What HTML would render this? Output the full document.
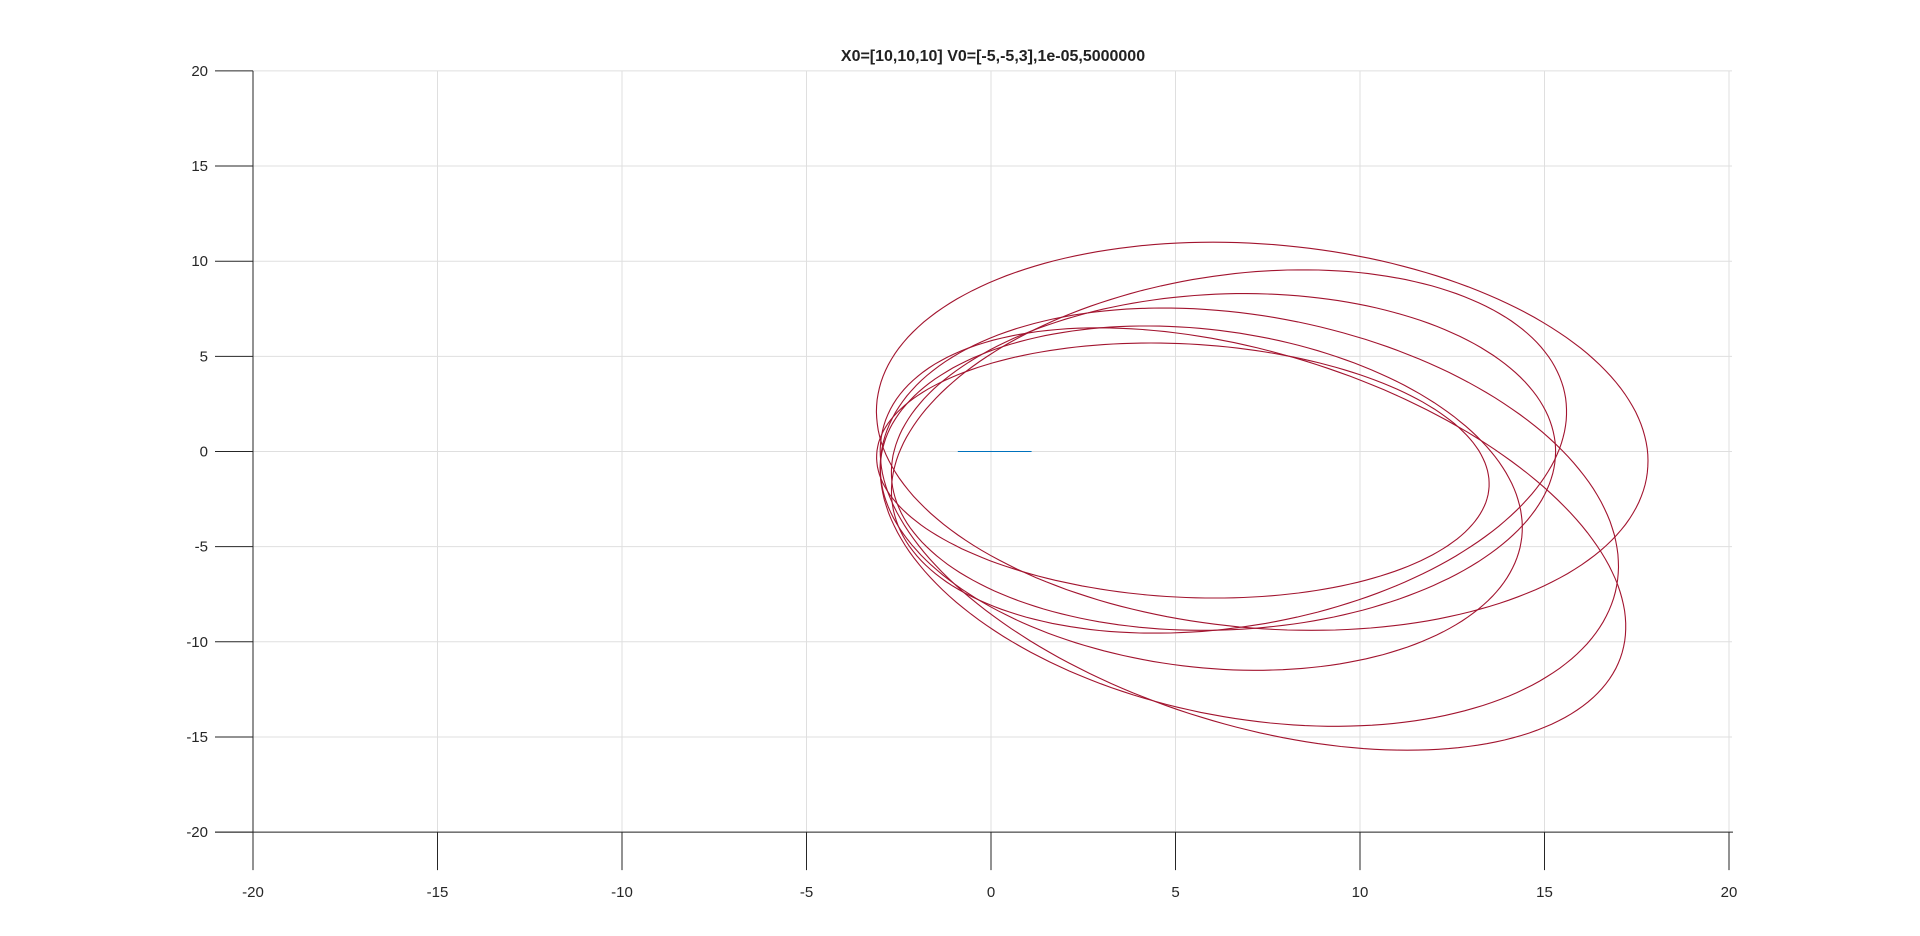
<!DOCTYPE html>
<html><head><meta charset="utf-8"><style>
body{margin:0;background:#fff;}
svg{display:block;font-family:"Liberation Sans",Arial,sans-serif;}
</style></head><body>
<svg width="1920" height="936" viewBox="0 0 1920 936">
<g id="grid"></g>
<g id="axes"></g>
<g id="series"></g>
<text x="993" y="61" text-anchor="middle" font-size="16" font-weight="bold" fill="#222">X0=[10,10,10] V0=[-5,-5,3],1e-05,5000000</text>
</svg>
<script>
const xTicks=[-20,-15,-10,-5,0,5,10,15,20];
const yTicks=[-20,-15,-10,-5,0,5,10,15,20];
// ellipse orbits: center x, center y, semi-axis x, semi-axis y, rotation (deg)
const orbitCx=[7.35,6.45,7.1,7.0,5.7,6.3,5.2];
const orbitCy=[0.8,0.0,-4.6,-3.45,-2.45,-0.55,-1.0];
const orbitRx=[10.98,10.34,12.66,11.75,9.62,9.21,8.38];
const orbitRy=[9.63,8.24,8.06,9.1,8.06,8.63,6.6];
const orbitRot=[-39.5,50.5,-51.4,-56,-51.5,37.4,-12.9];
const blueX=[-0.9,1.1];
const blueY=[0,0];
const NS="http://www.w3.org/2000/svg";
const X=v=>991+v*36.9;
const Y=v=>451.5-v*19.03;
function mk(tag,attrs,parent){const e=document.createElementNS(NS,tag);for(const k in attrs)e.setAttribute(k,attrs[k]);parent.appendChild(e);return e;}
const grid=document.getElementById('grid'),axes=document.getElementById('axes'),series=document.getElementById('series');
xTicks.forEach(t=>{
  const g=mk('line',{x1:X(t),x2:X(t),y1:Y(20),y2:Y(-20),stroke:'#dfdfdf','stroke-width':1},grid);
  
  
  const tk=mk('line',{x1:X(t),x2:X(t),y1:Y(-20),y2:Y(-20)+38,stroke:'#262626','stroke-width':1},axes);
  
  
  const lb=mk('text',{x:X(t),y:Y(-20)+65,'text-anchor':'middle','font-size':15,fill:'#262626'},axes);
  lb.textContent=t;
  
  
});
yTicks.forEach(t=>{
  const g=mk('line',{x1:X(-20),x2:X(20)+3,y1:Y(t),y2:Y(t),stroke:'#dfdfdf','stroke-width':1},grid);
  
  
  const tk=mk('line',{x1:X(-20)-38,x2:X(-20),y1:Y(t),y2:Y(t),stroke:'#262626','stroke-width':1},axes);
  
  
  const lb=mk('text',{x:X(-20)-45,y:Y(t)+5,'text-anchor':'end','font-size':15,fill:'#262626'},axes);
  lb.textContent=t;
  
  
});
const ya=mk('line',{x1:X(-20),x2:X(-20),y1:Y(20),y2:Y(-20),stroke:'#262626','stroke-width':1},axes);


const xa=mk('line',{x1:X(-20)-38,x2:X(20)+4,y1:Y(-20),y2:Y(-20),stroke:'#262626','stroke-width':1},axes);


orbitCx.forEach((cx,i)=>{
  const r=orbitRot[i]*Math.PI/180;let d='';
  for(let k=0;k<=200;k++){const t=k/200*2*Math.PI;
    const ex=orbitRx[i]*Math.cos(t),ey=orbitRy[i]*Math.sin(t);
    const px=cx+ex*Math.cos(r)-ey*Math.sin(r),py=orbitCy[i]+ex*Math.sin(r)+ey*Math.cos(r);
    d+=(k?'L':'M')+X(px).toFixed(1)+','+Y(py).toFixed(1);}
  const p=mk('path',{d:d,fill:'none',stroke:'#a2142f','stroke-width':1.1},series);
  
  
});
const bl=mk('line',{x1:X(blueX[0]),x2:X(blueX[1]),y1:Y(blueY[0]),y2:Y(blueY[1]),stroke:'#0072bd','stroke-width':1},series);


</script>
</body></html>
